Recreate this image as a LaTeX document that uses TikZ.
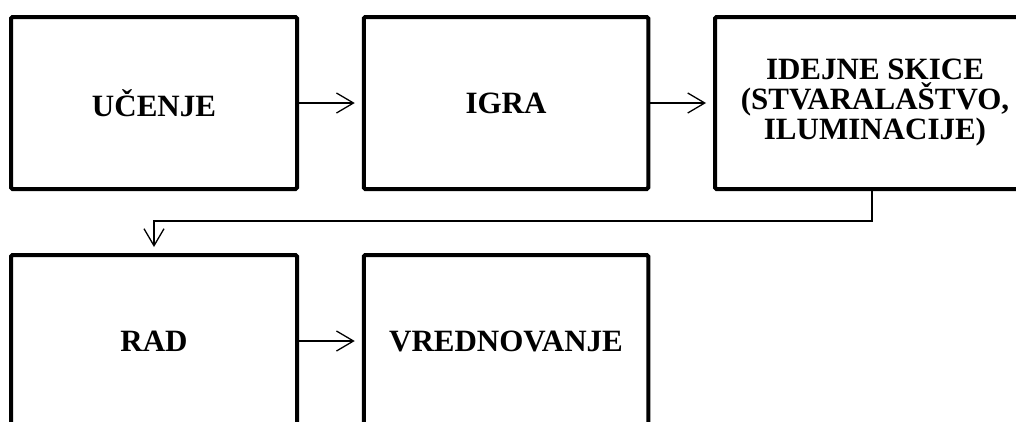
\documentclass[tikz,border=0pt]{standalone}
\usepackage{fontspec}
\setmainfont{Liberation Serif}
\usetikzlibrary{arrows.meta}
\begin{document}
\begin{tikzpicture}[x=1pt,y=-1pt,
  box/.style={draw=black,line width=4pt,rounded corners=1.5pt,fill=white,
    minimum height=172pt,inner sep=0pt,align=center,
    font=\fontsize{31}{30}\selectfont\bfseries},
  conn/.style={draw=black,line width=1.3pt,
    -{Straight Barb[length=17pt,width=20pt,line width=1.3pt]}}]
\useasboundingbox (0,0) rectangle (1016,421);
\clip (0,0) rectangle (1016,421);
\fill[white] (0,0) rectangle (1016,421);
\node[box,minimum width=286pt] (b1) at (154,103) {UČENJE};
\node[box,minimum width=284.5pt] (b2) at (506,103) {IGRA};
\node[box,minimum width=320pt] (b3) at (875,103) {IDEJNE SKICE\\(STVARALAŠTVO,\\ILUMINACIJE)};
\node[box,minimum width=286pt] (b4) at (154,341) {RAD};
\node[box,minimum width=284.5pt] (b5) at (506,341) {VREDNOVANJE};
\coordinate (k1) at (872,221);
\coordinate (k2) at (154,221);
\draw[conn,shorten >=7pt] (b1.east) -- (b2.west);
\draw[conn,shorten >=7pt] (b2.east) -- (b3.west);
\draw[conn,shorten >=7pt] (b4.east) -- (b5.west);
\draw[conn,shorten >=6pt] (b3.south -| k1) -- (k1) -- (k2) -- (b4.north);
\end{tikzpicture}
\end{document}
